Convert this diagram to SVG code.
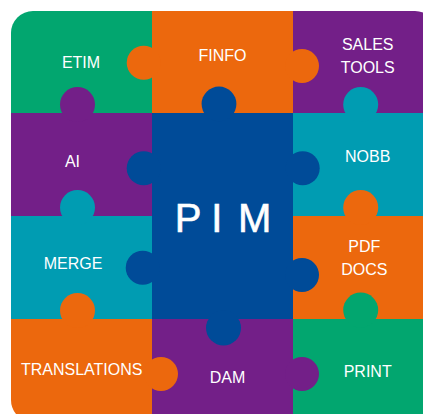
<svg xmlns="http://www.w3.org/2000/svg" width="423" height="414" viewBox="0 0 423 414">
<style>
text{font-family:"Liberation Sans",Arial,sans-serif;font-size:16px;fill:#fff;text-anchor:middle}
.g{fill:#02a66f}.o{fill:#ec680d}.p{fill:#731f88}.t{fill:#009cb2}.b{fill:#004b98}
</style>
<rect width="423" height="414" fill="#fff"/>
<g id="etim" class="g"><path d="M11 113V33A22 22 0 0 1 33 11H152V113Z"/><text x="81" y="67.5">ETIM</text></g>
<g id="sales-tools" class="p"><path d="M293 11H415A22 22 0 0 1 437 33V113H293Z"/><text x="367.7" y="50">SALES</text><text x="367.7" y="72.7">TOOLS</text></g>
<g id="finfo" class="o"><rect x="152" y="11" width="141" height="102"/><circle cx="143.7" cy="62.7" r="17"/><circle cx="302" cy="66" r="17"/><text x="222.5" y="61">FINFO</text></g>
<g id="ai" class="p"><rect x="11" y="113" width="141" height="103"/><circle cx="77.5" cy="104.5" r="17.5"/><text x="72.5" y="166.7">AI</text></g>
<g id="merge" class="t"><rect x="11" y="216" width="141" height="103"/><circle cx="77.5" cy="207.5" r="17.5"/><text x="73" y="269">MERGE</text></g>
<g id="nobb" class="t"><rect x="293" y="113" width="130" height="103"/><circle cx="360.7" cy="104.5" r="17.5"/><text x="367.7" y="162">NOBB</text></g>
<g id="pdf-docs" class="o"><rect x="293" y="216" width="130" height="103"/><circle cx="360.7" cy="207.5" r="17.5"/><text x="364.3" y="252">PDF</text><text x="364.3" y="275">DOCS</text></g>
<g id="print" class="g"><rect x="293" y="319" width="130" height="95"/><circle cx="360.7" cy="310" r="17.5"/><text x="367.7" y="377">PRINT</text></g>
<g id="dam" class="p"><rect x="152" y="319" width="141" height="95"/><circle cx="302" cy="374" r="17"/><text x="227.5" y="382.7">DAM</text></g>
<g id="translations" class="o"><path d="M11 319H152V414H16A22 22 0 0 1 11 400Z"/><circle cx="77.5" cy="310.5" r="17.5"/><circle cx="161" cy="374" r="17"/><text x="81.7" y="374.7">TRANSLATIONS</text></g>
<g id="pim" class="b"><rect x="152" y="113" width="141" height="206"/><circle cx="219" cy="104" r="17.4"/><circle cx="143.7" cy="168.3" r="17"/><circle cx="302.7" cy="168.3" r="17"/><circle cx="142.7" cy="267.7" r="17"/><circle cx="302" cy="275" r="17"/><circle cx="223.5" cy="328" r="17.5"/><text x="174.7 200 211.3 225 238" y="232" style="font-size:40px;text-anchor:start;stroke:#fff;stroke-width:.6">P I M</text></g>
</svg>
